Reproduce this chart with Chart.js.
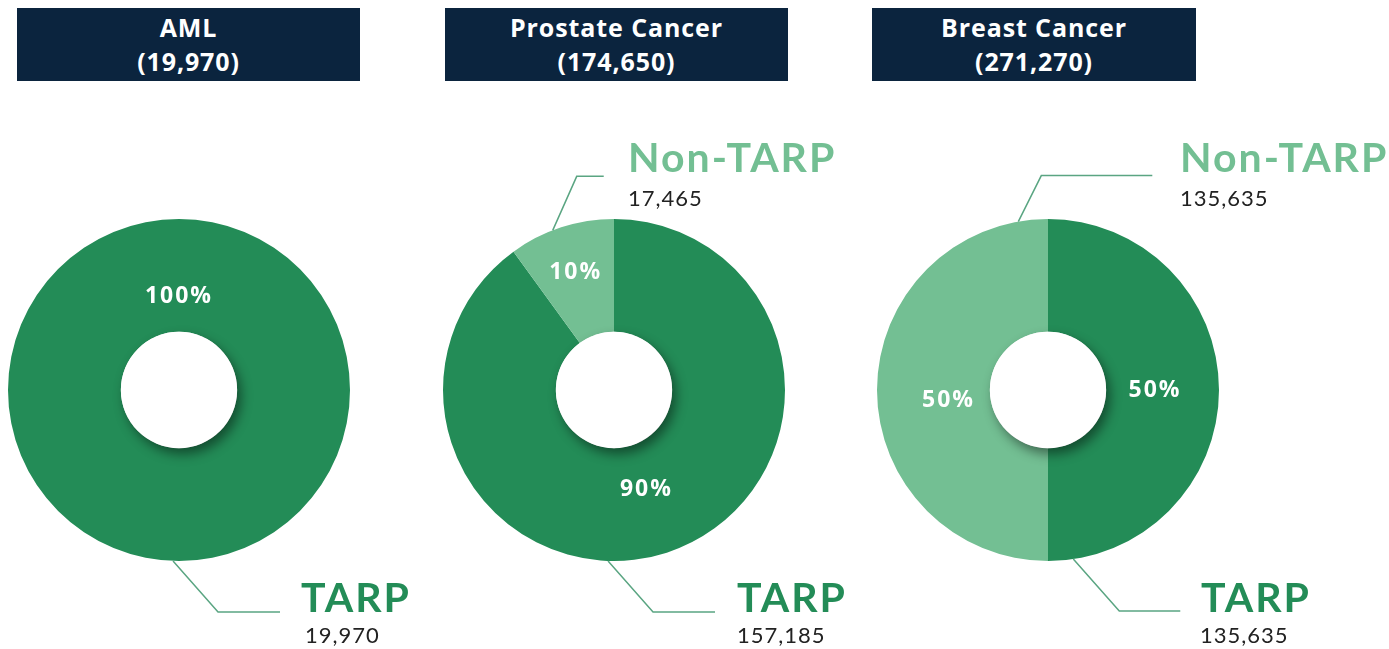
<!DOCTYPE html>
<html>
<head>
<meta charset="utf-8">
<script src="https://cdn.jsdelivr.net/npm/chart.js@4.4.1/dist/chart.umd.min.js"></script>
<style>
  body { margin: 0; background: #fff; }
  #page { position: relative; width: 1389px; height: 649px; overflow: hidden; font-family: 'Lato', sans-serif; }
  #page canvas { position: absolute; left: 0; top: 0; }
  .head { position: absolute; top: 8px; height: 73px; background: #0b243e; color: #fff;
          font-family: 'Open Sans', sans-serif; font-weight: 700; font-size: 25px; line-height: 34px;
          letter-spacing: 0.9px; text-align: center; padding-top: 2px; box-sizing: border-box; }
  .word { position: absolute; font-weight: 700; font-size: 41px; line-height: 41px; letter-spacing: 2px; white-space: nowrap; }
  .num { position: absolute; font-size: 22px; line-height: 22px; letter-spacing: 1px; color: #222; white-space: nowrap; }
</style>
</head>
<body>
<div id="page"></div>
<script>
const categories = ['AML', 'Prostate Cancer', 'Breast Cancer'];
const totals = [19970, 174650, 271270];
const segments = ['TARP', 'Non-TARP'];
const tarpValues = [19970, 157185, 135635];
const nonTarpValues = [0, 17465, 135635];

const DARK = '#238c57';
const LIGHT = '#73bf93';
const LINE = '#5aa582';
const W = 1389, H = 649;

// where each doughnut sits and how its annotations hang off it
const layouts = [
  { cx: 179, cy: 390, r: 171, head: [17, 343],
    pct: [{ angle: 0, dist: 94 }, null],
    leaders: [{ angle: 182, dx: 45, dy: 51, len: 62 }, null],
    words: [{ x: 301, base: 612, numBase: 644, numX: 305 }, null] },
  { cx: 614, cy: 390, r: 171, head: [445, 343],
    pct: [{ dist: 105 }, { dist: 124 }],
    leaders: [{ angle: 182, dx: 45, dy: 51, len: 62 }, { angle: 339, dx: 24, dy: -54, len: 27 }],
    words: [{ x: 737, base: 612, numBase: 644, numX: 737 }, { x: 628, base: 172, numBase: 207, numX: 628 }] },
  { cx: 1048, cy: 390, r: 171, head: [872, 324],
    pct: [{ dist: 107 }, { angle: 264, dist: 100 }],
    leaders: [{ angle: 171.5, dx: 46, dy: 52, len: 61 }, { angle: 350, dx: 23, dy: -46, len: 111 }],
    words: [{ x: 1201, base: 612, numBase: 644, numX: 1200 }, { x: 1180, base: 172, numBase: 207, numX: 1180 }] }
];

const fmt = n => n.toLocaleString('en-US');
const rad = deg => (deg - 90) * Math.PI / 180;

const decor = {
  id: 'decor',
  afterDatasetsDraw(chart, args, opts) {
    const ctx = chart.ctx;
    const meta = chart.getDatasetMeta(0);
    const a0 = meta.data[0];
    const { x, y, innerRadius, outerRadius } = a0;
    // white hole with a soft drop shadow onto the ring
    ctx.save();
    ctx.beginPath();
    ctx.arc(x, y, innerRadius, 0, Math.PI * 2);
    ctx.shadowColor = 'rgba(0,0,0,0.45)';
    ctx.shadowBlur = 12;
    ctx.shadowOffsetX = 4;
    ctx.shadowOffsetY = 6;
    ctx.fillStyle = '#fff';
    ctx.fill();
    ctx.restore();

    const data = chart.data.datasets[0].data;
    const total = data.reduce((s, v) => s + v, 0);
    ctx.save();
    ctx.font = '700 23px "Open Sans"';
    ctx.letterSpacing = '2px';
    ctx.fillStyle = '#fff';
    ctx.textAlign = 'center';
    ctx.textBaseline = 'middle';
    meta.data.forEach((arc, i) => {
      const spot = opts.pct[i];
      if (!spot || !data[i]) return;
      const th = spot.angle !== undefined ? rad(spot.angle) : (arc.startAngle + arc.endAngle) / 2;
      ctx.fillText(Math.round(data[i] / total * 100) + '%', x + spot.dist * Math.cos(th), y + spot.dist * Math.sin(th));
    });
    ctx.restore();

    // leader lines from the rim out to the labels
    ctx.save();
    ctx.strokeStyle = LINE;
    ctx.lineWidth = 1.5;
    opts.leaders.forEach(l => {
      if (!l) return;
      const th = rad(l.angle);
      const sx = x + outerRadius * Math.cos(th), sy = y + outerRadius * Math.sin(th);
      ctx.beginPath();
      ctx.moveTo(sx, sy);
      ctx.lineTo(sx + l.dx, sy + l.dy);
      ctx.lineTo(sx + l.dx + l.len, sy + l.dy);
      ctx.stroke();
    });
    ctx.restore();
  }
};

const page = document.getElementById('page');

layouts.forEach((L, k) => {
  const canvas = document.createElement('canvas');
  canvas.width = W; canvas.height = H;
  page.appendChild(canvas);

  new Chart(canvas, {
    type: 'doughnut',
    data: {
      labels: segments,
      datasets: [{
        data: [tarpValues[k], nonTarpValues[k]],
        backgroundColor: [DARK, LIGHT],
        borderWidth: 0
      }]
    },
    options: {
      responsive: false,
      animation: false,
      cutout: '34%',
      layout: { padding: { left: L.cx - L.r, right: W - L.cx - L.r, top: L.cy - L.r, bottom: H - L.cy - L.r } },
      plugins: {
        legend: { display: false },
        tooltip: { enabled: false },
        decor: { pct: L.pct, leaders: L.leaders }
      }
    },
    plugins: [decor]
  });

  const head = document.createElement('div');
  head.className = 'head';
  head.style.left = L.head[0] + 'px';
  head.style.width = L.head[1] + 'px';
  head.innerHTML = categories[k] + '<br>(' + fmt(totals[k]) + ')';
  page.appendChild(head);

  const vals = [tarpValues[k], nonTarpValues[k]];
  L.words.forEach((w, i) => {
    if (!w) return;
    const word = document.createElement('div');
    word.className = 'word';
    word.textContent = segments[i];
    word.style.color = i === 0 ? DARK : LIGHT;
    word.style.left = w.x + 'px';
    word.style.top = (w.base - 0.887 * 41) + 'px';
    page.appendChild(word);

    const num = document.createElement('div');
    num.className = 'num';
    num.textContent = fmt(vals[i]);
    num.style.left = w.numX + 'px';
    num.style.top = (w.numBase - 0.887 * 22) + 'px';
    page.appendChild(num);
  });
});
</script>
</body>
</html>
